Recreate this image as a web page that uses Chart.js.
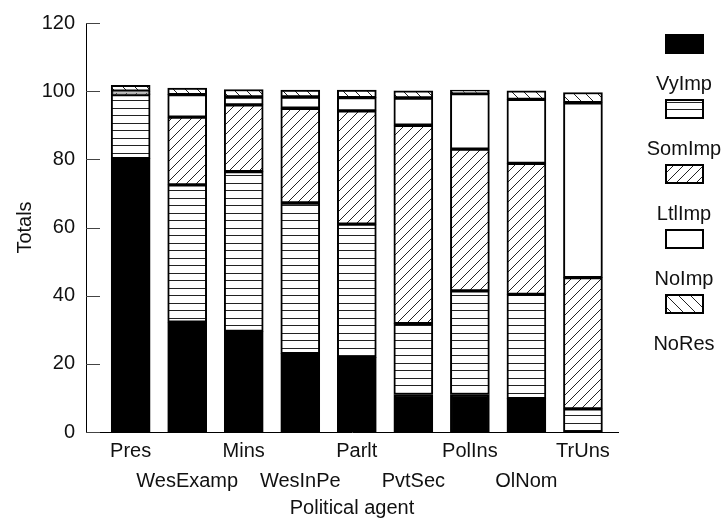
<!DOCTYPE html>
<html>
<head>
<meta charset="utf-8">
<script src="https://cdn.jsdelivr.net/npm/chart.js@4"></script>
<style>
  body { margin: 0; background: #fff; }
  #wrap { position: relative; width: 724px; height: 522px; }
  #legend { position: absolute; left: 640px; top: 34px; width: 88px; font-family: "Liberation Sans", Arial, sans-serif; font-size: 20px; color: #111; }
  .item { height: 65px; text-align: center; }
  .item canvas { display: block; margin: 0 auto; }
  .item span { display: block; margin-top: 17px; line-height: 24px; }
</style>
</head>
<body>
<div id="wrap">
  <canvas id="myChart" width="724" height="522"></canvas>
  <div id="legend"></div>
</div>
<script>
const agents = ["Pres", "WesExamp", "Mins", "WesInPe", "Parlt", "PvtSec", "PolIns", "OlNom", "TrUns"];
const vyImp = [80.2, 32.2, 29.5, 23.0, 21.8, 11.0, 11.0, 9.8, 0];
const somImp = [18.8, 40.3, 46.9, 44.2, 39.2, 20.8, 30.4, 30.6, 6.8];
const ltlImp = [0.4, 19.9, 19.6, 27.8, 33.2, 58.2, 41.6, 38.4, 38.5];
const noImp = [0.6, 6.6, 2.3, 3.3, 3.9, 8.0, 16.3, 18.8, 51.3];
const noRes = [1.7, 1.9, 2.2, 2.0, 2.2, 2.1, 1.0, 2.5, 3.0];
const seriesNames = ["VyImp", "SomImp", "LtlImp", "NoImp", "NoRes"];
const yTicks = [0, 20, 40, 60, 80, 100, 120];

const FONT = "'Liberation Sans', Arial, sans-serif";

// fill patterns like the old b/w print
function makePattern(kind) {
  const tile = document.createElement("canvas");
  const c = tile.getContext("2d");
  if (kind === "solid") return "#000";
  if (kind === "blank") return "#fff";
  if (kind === "hlines") {
    tile.width = 8;
    tile.height = 15;
    c.fillStyle = "#fff";
    c.fillRect(0, 0, 8, 15);
    c.fillStyle = "#222";
    c.fillRect(0, 3, 8, 1);
    c.fillRect(0, 10, 8, 1);
  } else {
    const s = kind === "fwd" ? 10 : 12;
    tile.width = s;
    tile.height = s;
    c.fillStyle = "#fff";
    c.fillRect(0, 0, s, s);
    c.strokeStyle = "#222";
    c.lineWidth = 1;
    c.beginPath();
    if (kind === "fwd") {
      c.moveTo(-1, s + 1); c.lineTo(s + 1, -1);
      c.moveTo(-1, 1); c.lineTo(1, -1);
      c.moveTo(s - 1, s + 1); c.lineTo(s + 1, s - 1);
    } else {
      c.moveTo(-1, -1); c.lineTo(s + 1, s + 1);
      c.moveTo(s - 1, -1); c.lineTo(s + 1, 1);
      c.moveTo(-1, s - 1); c.lineTo(1, s + 1);
    }
    c.stroke();
  }
  return c.createPattern(tile, "repeat");
}

const fills = [makePattern("solid"), makePattern("hlines"), makePattern("fwd"), makePattern("blank"), makePattern("back")];
const values = [vyImp, somImp, ltlImp, noImp, noRes];

const datasets = seriesNames.map((name, s) => ({
  label: name,
  data: values[s].map((v, i) => ({ x: i + 1, y: v })),
  backgroundColor: fills[s],
  borderColor: "#000",
  borderWidth: 2,
  borderSkipped: false,
  barThickness: 39,
}));

// tick marks pointing into the plot, as in the print
const innerTicks = {
  id: "innerTicks",
  afterDraw(chart) {
    const y = chart.scales.y;
    const ctx = chart.ctx;
    ctx.save();
    ctx.strokeStyle = "#444";
    ctx.lineWidth = 1;
    y.ticks.forEach((t, i) => {
      const py = Math.round(y.getPixelForTick(i)) + 0.5;
      ctx.beginPath();
      ctx.moveTo(chart.chartArea.left, py);
      ctx.lineTo(chart.chartArea.left + 14, py);
      ctx.stroke();
    });
    ctx.restore();
  },
};

const ctx = document.getElementById("myChart").getContext("2d");
const chart = new Chart(ctx, {
  type: "bar",
  data: { datasets: datasets },
  plugins: [innerTicks],
  options: {
    responsive: false,
    animation: false,
    layout: { padding: { left: 9, top: 19, right: 106, bottom: 0 } },
    plugins: { legend: { display: false }, tooltip: { enabled: false } },
    scales: {
      x: {
        type: "linear",
        stacked: true,
        offset: false,
        min: 0.21,
        max: 9.62,
        afterBuildTicks: (scale) => {
          scale.ticks = agents.map((a, i) => ({ value: i + 1 }));
        },
        afterFit: (scale) => {
          scale.height = 90;
        },
        grid: { display: false, drawTicks: false, offset: false },
        border: { display: true, color: "#000", width: 1 },
        ticks: {
          autoSkip: false,
          maxRotation: 0,
          padding: 4,
          color: "#111",
          font: { family: FONT, size: 20, lineHeight: 1.5 },
          callback: (value, index) => (index % 2 === 0 ? agents[index] : ["", agents[index]]),
        },
        title: {
          display: true,
          text: "Political agent",
          color: "#111",
          padding: { top: 0, bottom: 2 },
          font: { family: FONT, size: 20 },
        },
      },
      y: {
        stacked: true,
        min: 0,
        max: 120,
        afterBuildTicks: (scale) => {
          scale.ticks = yTicks.map((v) => ({ value: v }));
        },
        afterFit: (scale) => {
          scale.width = 77;
        },
        grid: { display: false, drawTicks: false },
        border: { display: true, color: "#000", width: 1 },
        ticks: {
          padding: 11,
          color: "#111",
          font: { family: FONT, size: 20 },
        },
        title: {
          display: true,
          text: "Totals",
          color: "#111",
          padding: { top: 4, bottom: 4 },
          font: { family: FONT, size: 20 },
        },
      },
    },
  },
});

// legend: swatch above its label
const legendEl = document.getElementById("legend");
seriesNames.forEach((name, s) => {
  const item = document.createElement("div");
  item.className = "item";
  const sw = document.createElement("canvas");
  sw.width = 39;
  sw.height = 20;
  const sctx = sw.getContext("2d");
  sctx.fillStyle = fills[s];
  sctx.fillRect(0, 0, 39, 20);
  sctx.strokeStyle = "#000";
  sctx.lineWidth = 2;
  sctx.strokeRect(1, 1, 37, 18);
  const label = document.createElement("span");
  label.textContent = name;
  item.appendChild(sw);
  item.appendChild(label);
  legendEl.appendChild(item);
});
</script>
</body>
</html>
